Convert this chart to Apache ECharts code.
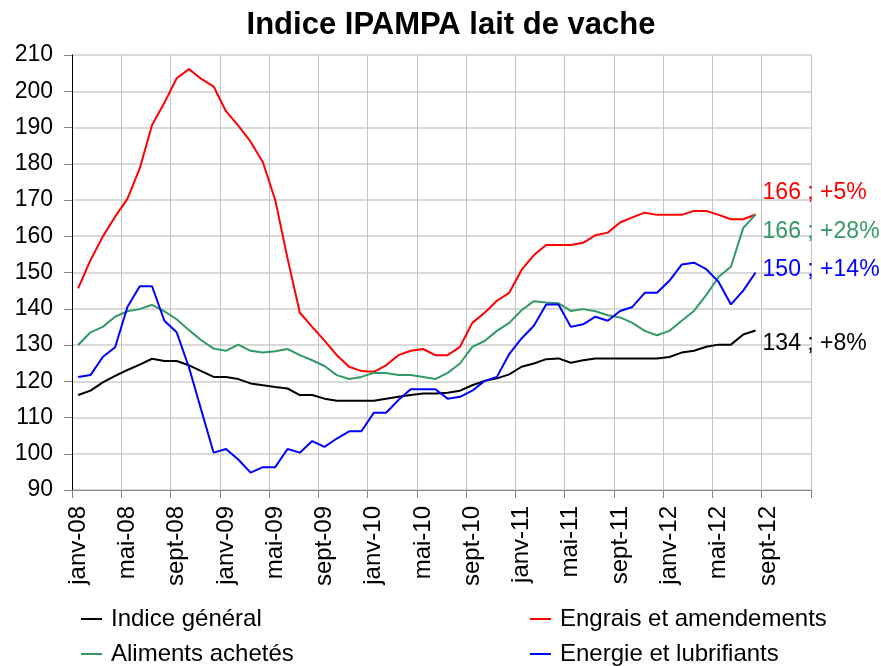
<!DOCTYPE html>
<html>
<head>
<meta charset="utf-8">
<title>Indice IPAMPA lait de vache</title>
<script src="https://cdn.jsdelivr.net/npm/echarts@6/dist/echarts.min.js"></script>
<style>
  html, body { margin: 0; padding: 0; background: #ffffff; }
  #chart { width: 881px; height: 666px; }
</style>
</head>
<body>
<div id="chart"></div>
<script>
// Month labels, janv-08 .. déc-12 (60 months on the axis)
const monthNames = ['janv', 'févr', 'mars', 'avr', 'mai', 'juin', 'juil', 'août', 'sept', 'oct', 'nov', 'déc'];
const years = ['08', '09', '10', '11', '12'];
const categories = [];
years.forEach(y => monthNames.forEach(m => categories.push(m + '-' + y)));

const seriesNames = ['Indice général', 'Engrais et amendements', 'Aliments achetés', 'Energie et lubrifiants'];

// Monthly index values, janv-08 .. août-12
const indiceGeneral = [
  116.2, 117.4, 119.7, 121.5, 123.1, 124.6, 126.2, 125.6, 125.6, 124.4, 122.8, 121.2,
  121.2, 120.6, 119.4, 118.9, 118.4, 118.0, 116.2, 116.2, 115.2, 114.6, 114.6, 114.6,
  114.6, 115.2, 115.7, 116.2, 116.6, 116.6, 116.8, 117.4, 118.9, 120.1, 120.8, 121.9,
  124.0, 124.9, 126.1, 126.3, 125.1, 125.8, 126.3, 126.3, 126.3, 126.3, 126.3, 126.3,
  126.7, 127.9, 128.4, 129.5, 130.1, 130.1, 132.9, 134
];
const engrais = [
  145.6, 153.4, 159.9, 165.4, 170.3, 178.7, 190.7, 196.8, 203.6, 206.1, 203.4, 201.3,
  194.5, 190.5, 186.1, 180.4, 170.0, 153.9, 138.9, 135.0, 131.2, 127.2, 124.0, 122.8,
  122.6, 124.4, 127.2, 128.4, 128.9, 127.2, 127.2, 129.5, 136.1, 138.9, 142.2, 144.4,
  150.7, 154.8, 157.6, 157.6, 157.6, 158.2, 160.3, 161.0, 163.8, 165.2, 166.5, 165.9,
  165.9, 165.9, 167.0, 167.0, 165.9, 164.7, 164.7, 166
];
const aliments = [
  130.0, 133.5, 135.0, 137.8, 139.3, 139.9, 141.1, 139.3, 137.1, 134.1, 131.3, 129.0,
  128.4, 130.1, 128.4, 127.9, 128.3, 128.9, 127.2, 125.8, 124.2, 121.7, 120.6, 121.2,
  122.3, 122.3, 121.7, 121.7, 121.2, 120.6, 122.3, 124.9, 129.5, 131.1, 133.9, 136.1,
  139.6, 142.1, 141.7, 141.5, 139.4, 139.9, 139.3, 138.2, 137.6, 136.1, 133.9, 132.7,
  133.9, 136.7, 139.4, 143.8, 148.8, 151.6, 162.3, 166
];
const energie = [
  121.2, 121.7, 126.7, 129.4, 140.5, 146.2, 146.2, 136.7, 133.5, 123.8, 112.0, 100.3,
  101.3, 98.4, 94.8, 96.3, 96.3, 101.3, 100.3, 103.5, 101.9, 104.2, 106.2, 106.2,
  111.3, 111.3, 114.8, 117.8, 117.8, 117.8, 115.2, 115.7, 117.4, 120.1, 121.2, 127.5,
  131.8, 135.3, 141.2, 141.2, 135.0, 135.7, 137.8, 136.7, 139.4, 140.5, 144.4, 144.4,
  147.7, 152.2, 152.7, 150.9, 147.4, 141.2, 145.0, 150
];

// Last value and year-on-year change shown at the end of each curve
const endLabels = ['134 ; +8%', '166 ; +5%', '166 ; +28%', '150 ; +14%'];

const seriesData = [indiceGeneral, engrais, aliments, energie];
const colors = ['#000000', '#ff0000', '#339966', '#0000ff'];
const endLabelShift = [13, -22, 17, -3];

const FONT = '"Liberation Sans", Arial, sans-serif';

const chart = echarts.init(document.getElementById('chart'), null, { renderer: 'canvas' });

const legendCommon = {
  orient: 'vertical',
  top: 607,
  height: 120,
  padding: 0,
  itemWidth: 21,
  itemHeight: 2,
  itemGap: 11,
  icon: 'rect',
  textStyle: { fontFamily: FONT, fontSize: 24, color: '#000', lineHeight: 24, padding: [0, 0, 0, 4] },
  selectedMode: false
};

chart.setOption({
  animation: false,
  backgroundColor: '#ffffff',
  title: {
    text: 'Indice IPAMPA lait de vache',
    left: 451,
    top: 10,
    padding: 0,
    textAlign: 'center',
    textStyle: { fontFamily: FONT, fontSize: 31, fontWeight: 'bold', color: '#000' }
  },
  legend: [
    Object.assign({}, legendCommon, { left: 81, data: [seriesNames[0], seriesNames[2]] }),
    Object.assign({}, legendCommon, { left: 530, data: [seriesNames[1], seriesNames[3]] })
  ],
  grid: { left: 72, right: 70, top: 55, bottom: 176, containLabel: false },
  xAxis: {
    type: 'category',
    data: categories,
    boundaryGap: true,
    axisLine: { show: true, lineStyle: { color: '#868686', width: 1 } },
    axisTick: { show: true, interval: 3, length: 8, lineStyle: { color: '#868686' } },
    axisLabel: {
      interval: 3, rotate: 90, margin: 16,
      fontFamily: FONT, fontSize: 24, color: '#000'
    },
    splitLine: { show: true, interval: 3, lineStyle: { color: '#c4c4c4', width: 1 } }
  },
  yAxis: {
    type: 'value',
    min: 90,
    max: 210,
    interval: 10,
    axisLine: { show: true, lineStyle: { color: '#000', width: 1 } },
    axisTick: { show: true, length: 8, lineStyle: { color: '#868686' } },
    axisLabel: { margin: 19, fontFamily: FONT, fontSize: 23, color: '#000' },
    splitLine: { show: true, lineStyle: { color: '#d9d9d9', width: 2 } }
  },
  series: seriesNames.map((name, i) => ({
    name: name,
    type: 'line',
    data: seriesData[i],
    symbol: 'none',
    color: colors[i],
    lineStyle: { color: colors[i], width: 2 },
    endLabel: {
      show: true,
      formatter: () => endLabels[i],
      color: colors[i],
      fontFamily: FONT,
      fontSize: 23,
      distance: 7,
      offset: [0, endLabelShift[i]]
    }
  }))
});
</script>
</body>
</html>
